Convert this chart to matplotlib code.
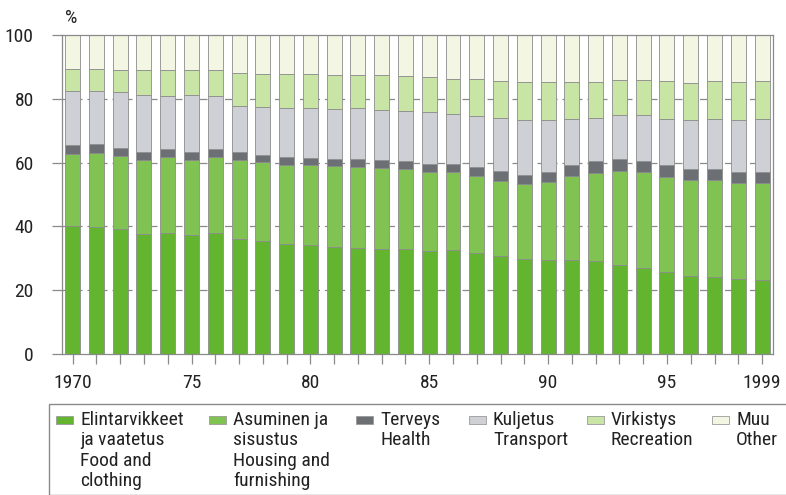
import matplotlib

matplotlib.use("Agg")
import matplotlib.pyplot as plt
import numpy as np
from matplotlib import font_manager
from matplotlib.patches import Rectangle

# a narrow face if one is installed, else plain DejaVu
names = {f.name for f in font_manager.fontManager.ttflist}
narrow = [n for n in ["Liberation Sans Narrow", "DejaVu Sans Condensed", "Roboto Condensed",
                      "Open Sans Condensed"] if n in names]
plt.rcParams["font.family"] = narrow + ["DejaVu Sans"]
plt.rcParams["font.stretch"] = "condensed"

years = list(range(1970, 2000))
food = [40.0, 39.8, 39.3, 37.5, 37.8, 37.4, 37.8, 36.0, 35.4, 34.4, 34.1, 33.4, 33.3, 33.0, 32.9,
        32.2, 32.5, 31.7, 30.6, 29.7, 29.5, 29.5, 29.2, 28.0, 27.1, 25.8, 24.5, 24.2, 23.6, 23.3]
housing = [22.8, 23.3, 22.7, 23.3, 23.8, 23.4, 23.8, 24.9, 24.9, 25.0, 25.0, 25.6, 25.4, 25.2, 25.0,
           24.7, 24.4, 24.0, 23.7, 23.6, 24.3, 26.2, 27.6, 29.3, 29.8, 29.8, 30.0, 30.3, 30.0, 30.2]
health = [2.8, 2.7, 2.7, 2.6, 2.6, 2.6, 2.6, 2.5, 2.2, 2.2, 2.3, 2.2, 2.3, 2.6, 2.7,
          2.8, 2.7, 3.0, 3.1, 2.9, 3.2, 3.4, 3.6, 3.9, 3.6, 3.6, 3.5, 3.6, 3.6, 3.6]
transport = [17.0, 16.5, 17.3, 17.9, 16.7, 17.8, 16.8, 14.4, 14.9, 15.4, 15.7, 15.7, 16.1, 15.6, 15.5,
             16.1, 15.6, 15.9, 16.6, 17.2, 16.4, 14.5, 13.7, 13.7, 14.4, 14.6, 15.3, 15.6, 16.1, 16.6]
recreation = [6.8, 7.0, 7.1, 7.8, 8.1, 7.9, 8.0, 10.4, 10.5, 10.7, 10.6, 10.7, 10.5, 11.0, 10.9,
              10.9, 11.1, 11.6, 11.7, 11.8, 11.8, 11.7, 11.2, 11.0, 11.1, 11.7, 11.8, 12.0, 12.0, 12.0]
other = [10.6, 10.7, 10.9, 10.9, 11.0, 10.9, 11.0, 11.8, 12.1, 12.3, 12.3, 12.4, 12.4, 12.6, 13.0,
         13.3, 13.7, 13.8, 14.3, 14.8, 14.8, 14.7, 14.7, 14.1, 14.0, 14.5, 14.9, 14.3, 14.7, 14.3]

series = [food, housing, health, transport, recreation, other]
labels = [
    "Elintarvikkeet\nja vaatetus\nFood and\nclothing",
    "Asuminen ja\nsisustus\nHousing and\nfurnishing",
    "Terveys\nHealth",
    "Kuljetus\nTransport",
    "Virkistys\nRecreation",
    "Muu\nOther",
]
colors = ["#63b52f", "#80c352", "#6c7074", "#cfd0d6", "#c8e5a6", "#f2f6e2"]
tick_years = [1970, 1975, 1980, 1985, 1990, 1995, 1999]
tick_labels = ["1970", "75", "80", "85", "90", "95", "1999"]

fs = 14 if narrow else 11.5
fs_leg = 14 if narrow else 11
W, H = 786, 495
fig = plt.figure(figsize=(W / 100, H / 100), dpi=100)
ax = fig.add_axes([61.7 / W, 1 - 354 / H, (773 - 61.7) / W, (354 - 35) / H])

grey = "#8a8a8a"
bottom = np.zeros(len(years))
for vals, col in zip(series, colors):
    ax.bar(years, vals, bottom=bottom, width=0.63, color=col,
           edgecolor="#8c8c8c", linewidth=0.6, zorder=2)
    bottom += np.array(vals)

ax.set_xlim(years[0] - 0.46, years[-1] + 0.46)
ax.set_ylim(0, 100)
ax.set_yticks([0, 20, 40, 60, 80, 100])
ax.set_xticks(years, minor=True)
ax.set_xticks(tick_years)
ax.set_xticklabels(tick_labels)
ax.tick_params(axis="y", length=7.2, width=0.9, color=grey, pad=13,
               labelsize=fs, labelcolor="#222222")
ax.tick_params(axis="x", which="both", length=7.2, width=0.9, color=grey, pad=7,
               labelsize=fs, labelcolor="#222222")

for y in [20, 40, 60, 80]:
    ax.axhline(y, color=grey, lw=0.9, ls=(0, (6, 4)), zorder=1)
for side in ["left", "right", "top", "bottom"]:
    ax.spines[side].set_color(grey)
    ax.spines[side].set_linewidth(0.9)

fig.text(71 / W, 1 - 18 / H, "%", ha="center", va="center", fontsize=fs, color="#222222")

# legend box
fig.patches.append(Rectangle((49 / W, 0), (W + 5 - 49) / W, (H - 404) / H,
                             transform=fig.transFigure, facecolor="white",
                             edgecolor=grey, linewidth=1.0))
sq_x = [56, 209, 356, 469, 587, 712]
for x0, lab, col in zip(sq_x, labels, colors):
    fig.patches.append(Rectangle((x0 / W, 1 - 424 / H), 17 / W, 8 / H,
                                 transform=fig.transFigure, facecolor=col,
                                 edgecolor="#9a9a9a", linewidth=0.6))
    fig.text((x0 + 24) / W, 1 - 411 / H, lab, ha="left", va="top",
             fontsize=fs_leg, color="#222222", linespacing=1.17)

fig.savefig("out.png", dpi=100)
